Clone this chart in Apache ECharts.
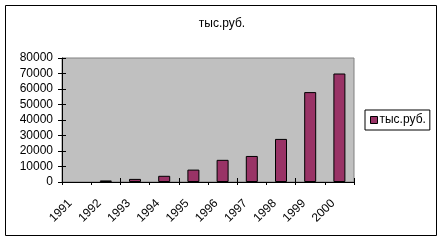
<!DOCTYPE html>
<html><head><meta charset="utf-8">
<script src="https://cdn.jsdelivr.net/npm/echarts@6/dist/echarts.min.js"></script>
<style>html,body{margin:0;padding:0;background:#fff}#c{width:444px;height:242px}</style>
</head><body><div id="c"></div>
<script>
var categories = ['1991','1992','1993','1994','1995','1996','1997','1998','1999','2000'];
var values = [0, 1000, 2000, 4000, 8000, 14300, 16800, 27800, 58000, 70000];
var seriesName = 'тыс.руб.';
var titleText = 'тыс.руб.';
var yMin = 0, yMax = 80000, yStep = 10000;

var font = 'Liberation Sans, Arial, sans-serif';
var chart = echarts.init(document.getElementById('c'), null, {renderer:'canvas'});
chart.setOption({
  animation:false,
  backgroundColor:'#fff',
  title:{text:titleText,left:'center',top:18,textStyle:{fontFamily:font,fontSize:12,fontWeight:'normal',color:'#000'},padding:0},
  legend:{data:[seriesName],left:365,top:110,width:69,height:21,orient:'vertical',
    borderColor:'#000',borderWidth:1,backgroundColor:'#fff',padding:[4,4,4,5],
    icon:'rect',itemWidth:7,itemHeight:7,itemGap:0,
    textStyle:{fontFamily:font,fontSize:12,color:'#000',padding:[0,0,0,-3]},
    itemStyle:{borderColor:'#000',borderWidth:1}},
  grid:{left:62,top:58,width:292,height:124,show:true,backgroundColor:'#c0c0c0',borderColor:'#808080',borderWidth:1},
  xAxis:[
    {type:'category',data:categories,boundaryGap:true,
     axisLine:{lineStyle:{color:'#000',width:1}},
     axisTick:{show:true,length:3,lineStyle:{color:'#000'}},
     axisLabel:{rotate:45,fontFamily:font,fontSize:12,color:'#000',margin:13,interval:0,padding:[0,9,0,0]},
     splitLine:{show:false}},
    {type:'category',data:categories,position:'bottom',boundaryGap:true,
     axisLine:{show:false},
     axisTick:{show:true,inside:true,length:4,lineStyle:{color:'#000'}},
     axisLabel:{show:false},splitLine:{show:false}}
  ],
  yAxis:[
    {type:'value',min:yMin,max:yMax,interval:yStep,
     axisLine:{show:true,lineStyle:{color:'#000',width:1}},
     axisTick:{show:true,length:4,lineStyle:{color:'#000'}},
     axisLabel:{fontFamily:font,fontSize:12,color:'#000',margin:9,formatter:function(v){return String(v);}},
     splitLine:{show:false}},
    {type:'value',min:yMin,max:yMax,interval:yStep,position:'left',
     axisLine:{show:false},
     axisTick:{show:true,inside:true,length:4,lineStyle:{color:'#000'}},
     axisLabel:{show:false},splitLine:{show:false}}
  ],
  series:[{name:seriesName,type:'bar',barWidth:12,
    data:values.map(function(v){return v===0?{value:v,itemStyle:{borderWidth:0}}:v;}),
    itemStyle:{color:'#993366',borderColor:'#000',borderWidth:1}}],
  graphic:[{type:'rect',shape:{x:5.5,y:5.5,width:431,height:230},style:{fill:null,stroke:'#000',lineWidth:1},z:100,silent:true}]
});
</script></body></html>
